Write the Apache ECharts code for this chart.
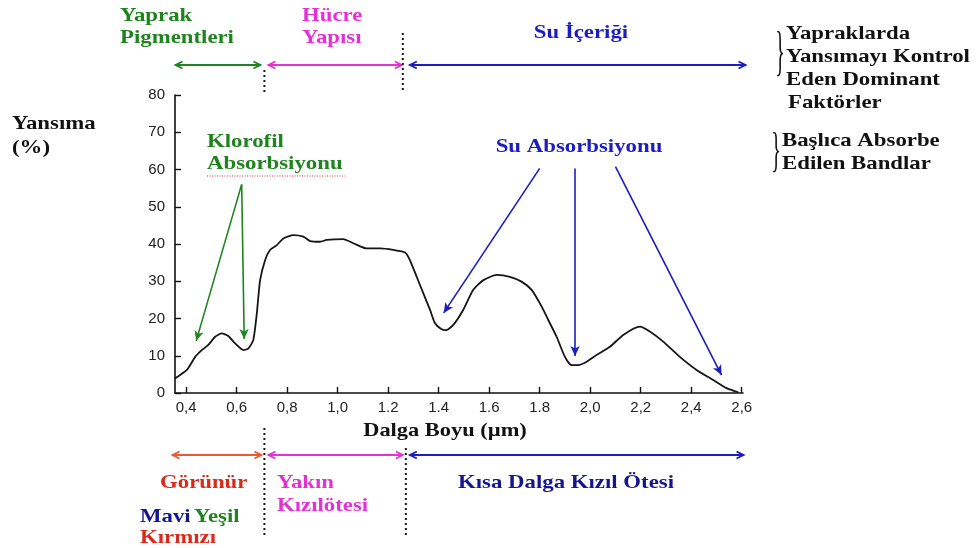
<!DOCTYPE html>
<html>
<head>
<meta charset="utf-8">
<script src="https://cdn.jsdelivr.net/npm/echarts@6/dist/echarts.min.js"></script>
<style>
  html, body { margin: 0; padding: 0; background: #fff; }
  #chart { width: 977px; height: 548px; }
</style>
</head>
<body>
<div id="chart"></div>
<script>
// Leaf spectral reflectance curve (wavelength in µm, reflectance in %)
const wavelength = [
  0.356, 0.403, 0.436, 0.462, 0.488, 0.515, 0.541, 0.567, 0.594, 0.627,
  0.647, 0.666, 0.680, 0.693, 0.713, 0.732, 0.759, 0.785, 0.825, 0.864,
  0.891, 0.930, 0.957, 1.022, 1.062, 1.115, 1.168, 1.220, 1.267, 1.286,
  1.313, 1.339, 1.366, 1.385, 1.410, 1.430, 1.458, 1.497, 1.537, 1.577,
  1.630, 1.682, 1.728, 1.768, 1.808, 1.834, 1.867, 1.900, 1.926, 1.953,
  1.986, 2.025, 2.078, 2.131, 2.197, 2.236, 2.289, 2.355, 2.421, 2.487,
  2.540, 2.586
];
const reflectance = [
  3.9, 6.2, 9.7, 11.5, 12.9, 15.1, 16.0, 15.3, 13.3, 11.5,
  12.0, 14.2, 21.4, 30.3, 35.7, 38.4, 39.7, 41.5, 42.4, 42.0,
  40.8, 40.6, 41.1, 41.3, 40.2, 38.8, 38.8, 38.4, 37.7, 35.7,
  31.2, 26.8, 22.3, 18.8, 17.2, 16.9, 18.3, 22.3, 27.7, 30.3,
  31.7, 31.2, 29.9, 27.7, 23.2, 19.6, 15.1, 9.7, 7.5, 7.5,
  8.4, 10.2, 12.4, 15.6, 17.8, 16.5, 13.8, 9.7, 6.2, 3.5,
  1.3, 0.2
];

// Tick positions and their printed labels along the wavelength axis
const xTickValues = [0.4, 0.6, 0.8, 1.0, 1.2, 1.4, 1.6, 1.8, 2.0, 2.2, 2.4, 2.6];
const xTickLabels = ['0,4', '0,6', '0,8', '1,0', '1.2', '1.4', '1.6', '1.8', '2,0', '2,2', '2,4', '2,6'];

// Absorption arrows: [from (wavelength, %), to (wavelength, %)]
const chlorophyllArrows = [
  [[0.62, 56.0], [0.44, 14.0]],
  [[0.62, 56.0], [0.63, 14.5]]
];
const waterArrows = [
  [[1.80, 60.3], [1.42, 21.5]],
  [[1.94, 60.3], [1.94, 9.9]],
  [[2.10, 60.8], [2.52, 4.8]]
];

// Spectral region boundaries (µm)
const regionEdges = [0.358, 0.71, 1.27, 2.615];

const GREEN = '#1f841f';
const PINK = '#e432d2';
const BLUE = '#1c1cc0';
const NAVY = '#15158e';
const RED = '#d92a1c';
const ORANGE = '#e85a34';

const chart = echarts.init(document.getElementById('chart'), null, { renderer: 'canvas' });

function arrowLines(pairs, color) {
  return pairs.map(p => [
    { coord: p[0], symbol: 'none' },
    { coord: p[1], symbol: 'arrow', symbolSize: [7, 10] }
  ]).map(seg => seg.map(pt => Object.assign(pt, { lineStyle: { color: color } })));
}

chart.setOption({
  animation: false,
  grid: { left: 175, right: 234, top: 95, bottom: 155, containLabel: false },
  xAxis: {
    type: 'value',
    min: 0.356,
    max: 2.605,
    splitLine: { show: false },
    axisLine: { show: true, onZero: false, lineStyle: { color: '#111', width: 1.6 } },
    axisTick: {
      show: true, inside: true, length: 6, customValues: xTickValues,
      lineStyle: { color: '#111', width: 1.4 }
    },
    axisLabel: {
      customValues: xTickValues,
      margin: 7,
      color: '#222',
      fontSize: 15,
      fontFamily: 'Liberation Sans, Arial, sans-serif',
      formatter: function (v) {
        const i = xTickValues.findIndex(t => Math.abs(t - v) < 1e-6);
        return i >= 0 ? xTickLabels[i] : '';
      }
    }
  },
  yAxis: {
    type: 'value',
    min: 0,
    max: 80,
    interval: 10,
    splitLine: { show: false },
    axisLine: { show: true, lineStyle: { color: '#111', width: 1.6 } },
    axisTick: { show: true, inside: true, length: 6, lineStyle: { color: '#111', width: 1.4 } },
    axisLabel: {
      margin: 10,
      color: '#222',
      fontSize: 15,
      fontFamily: 'Liberation Sans, Arial, sans-serif'
    }
  },
  series: [
    {
      type: 'line',
      data: wavelength.map((w, i) => [w, reflectance[i]]),
      showSymbol: false,
      smooth: 0.2,
      clip: false,
      lineStyle: { color: '#151515', width: 1.8 },
      markLine: {
        silent: true,
        symbol: ['none', 'arrow'],
        label: { show: false },
        lineStyle: { type: 'solid', width: 1.6 },
        data: arrowLines(chlorophyllArrows, GREEN).concat(arrowLines(waterArrows, BLUE))
      }
    }
  ]
});

// ---- annotations positioned from the axis scales ----
const px = w => chart.convertToPixel({ xAxisIndex: 0 }, w);

const SERIF = '"Liberation Serif", "Times New Roman", serif';

function label(text, x, y, color, opts) {
  opts = opts || {};
  const align = opts.align || 'left';
  return {
    type: 'text',
    x: x, y: y,
    scaleX: opts.sx || 1.2,
    scaleY: opts.sy || 1,
    silent: true,
    style: {
      text: text,
      fill: color,
      fontSize: opts.size || 19,
      fontWeight: opts.weight || 'bold',
      fontFamily: SERIF,
      textAlign: align, align: align,
      textVerticalAlign: 'middle', verticalAlign: 'middle'
    }
  };
}

function head(x, y, dir, color) {
  const L = 7, H = 3.5;
  return {
    type: 'polyline', silent: true,
    shape: { points: [[x - dir * L, y - H], [x, y], [x - dir * L, y + H]] },
    style: { stroke: color, lineWidth: 1.8, fill: null }
  };
}

function doubleArrow(x1, x2, y, color) {
  return [
    { type: 'line', silent: true, shape: { x1: x1, y1: y, x2: x2, y2: y }, style: { stroke: color, lineWidth: 2 } },
    head(x1, y, -1, color),
    head(x2, y, 1, color)
  ];
}

function dotted(x, y1, y2) {
  return {
    type: 'line', silent: true,
    shape: { x1: x, y1: y1, x2: x, y2: y2 },
    style: { stroke: '#1a1a1a', lineWidth: 2, lineDash: [2, 3] }
  };
}

const e = regionEdges.map(px);
const topY = 65, botY = 455;

const elements = [].concat(
  // controlling factors (top)
  doubleArrow(e[0], e[1] - 4, topY, GREEN),
  doubleArrow(e[1] + 4, e[2] - 4, topY, PINK),
  doubleArrow(e[2] + 4, e[3], topY, BLUE),
  [dotted(e[1], 70, 93), dotted(e[2] - 3, 33, 93)],
  [
    label('Yaprak', 120, 16, GREEN),
    label('Pigmentleri', 120, 38, GREEN),
    label('Hücre', 302, 16, PINK),
    label('Yapısı', 302, 38, PINK),
    label('Su İçeriği', 581, 33, BLUE, { align: 'center' })
  ],
  // spectral regions (bottom)
  doubleArrow(e[0] - 3, e[1] - 3, botY, ORANGE),
  doubleArrow(e[1] + 4, e[2] - 3, botY, PINK),
  doubleArrow(e[2] + 4, e[3] - 2, botY, BLUE),
  [dotted(e[1], 428, 536), dotted(e[2], 448, 536)],
  [
    label('Dalga Boyu (µm)', 445, 431, '#111', { align: 'center', size: 19, sx: 1.18 }),
    label('Görünür', 160, 483, RED),
    label('Yakın', 277, 483, PINK),
    label('Kızılötesi', 277, 506, PINK),
    label('Kısa Dalga Kızıl Ötesi', 566, 483, NAVY, { align: 'center' }),
    label('Mavi', 140, 517, NAVY),
    label('Yeşil', 194, 517, GREEN),
    label('Kırmızı', 140, 538, RED)
  ],
  // axis title and in-plot notes
  [
    label('Yansıma', 12, 124, '#111'),
    label('(%)', 12, 148, '#111'),
    label('Klorofil', 207, 142, GREEN),
    label('Absorbsiyonu', 207, 164, GREEN),
    {
      type: 'line', silent: true,
      shape: { x1: 207, y1: 176, x2: 345, y2: 176 },
      style: { stroke: '#d23a3a', lineWidth: 1, lineDash: [1, 1.5] }
    },
    label('Su Absorbsiyonu', 579, 147, BLUE, { align: 'center' })
  ],
  // legend-like notes on the right
  [
    label('}', 780, 55, '#111', { align: 'center', size: 20, weight: 'normal', sx: 1, sy: 2.7 }),
    label('Yapraklarda', 786, 34, '#111'),
    label('Yansımayı Kontrol', 786, 57, '#111'),
    label('Eden Dominant', 786, 80, '#111'),
    label('Faktörler', 788, 103, '#111'),
    label('}', 776, 153, '#111', { align: 'center', size: 20, weight: 'normal', sx: 1, sy: 2.4 }),
    label('Başlıca Absorbe', 782, 141, '#111'),
    label('Edilen Bandlar', 782, 164, '#111')
  ]
);

chart.setOption({ graphic: { elements: elements } });
</script>
</body>
</html>
